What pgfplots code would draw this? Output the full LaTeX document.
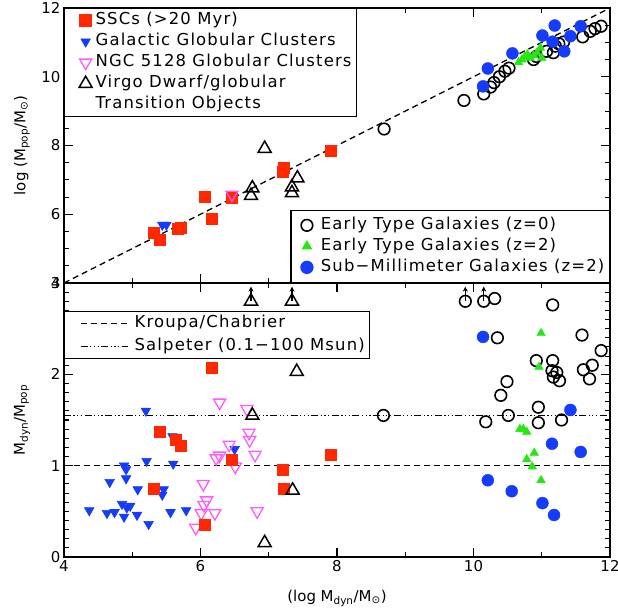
\documentclass[border=0pt]{standalone}
\usepackage{fontspec}
\setmainfont{DejaVu Sans}
\newfontfamily\legfont[LetterSpace=7]{DejaVu Sans}
\usepackage{pgfplots}
\pgfplotsset{compat=1.18}
\usetikzlibrary{arrows.meta}

\definecolor{sscred}{RGB}{255,40,0}
\definecolor{gcblue}{RGB}{20,60,250}
\definecolor{ngcpink}{RGB}{255,90,255}
\definecolor{etgreen}{RGB}{40,230,20}

\pgfplotsset{
  panel/.style={
    scale only axis, width=546bp,
    xmin=4, xmax=12,
    xtick={4,6,8,10,12}, minor x tick num=1,
    tick align=inside,
    major tick length=9bp, minor tick length=5bp,
    axis line style={line width=1.5bp},
    every tick/.style={line width=1.1bp, black},
    tick label style={font=\fontsize{15}{15}\selectfont},
    label style={font=\fontsize{15}{15}\selectfont},
    /pgf/number format/assume math mode=true,
    legend cell align=left,
  },
  legbox/.style={
    draw=black, line width=1.3bp, fill=white,
    inner xsep=4bp, inner ysep=3bp, row sep=3bp,
    font=\legfont\fontsize{16.5}{19}\selectfont,
    nodes={inner sep=1bp, text height=12bp, text depth=4bp},
  },
  markpicA/.style={legend image code/.code={
    \path[draw=none] (0bp,0bp) -- (26bp,0bp);
    \draw[mark repeat=2,mark phase=2,##1] plot coordinates {(0bp,0bp) (17bp,0bp) (26bp,0bp)};}},
  markpicB/.style={legend image code/.code={
    \path[draw=none] (0bp,0bp) -- (25bp,0bp);
    \draw[mark repeat=2,mark phase=2,##1] plot coordinates {(0bp,0bp) (12bp,0bp) (25bp,0bp)};}},
  linepic/.style={legend image code/.code={
    \path[draw=none] (0bp,0bp) -- (65bp,0bp);
    \draw[##1] (12bp,0bp) -- (59bp,0bp);}},
  ssc/.style={only marks, mark=square*, mark size=5.5bp, color=sscred},
  ggc/.style={only marks, mark=triangle*, mark size=5.5bp, color=gcblue,
    mark options={rotate=180, line width=0.6bp}},
  ngc/.style={only marks, mark=triangle, mark size=7bp, color=ngcpink,
    mark options={rotate=180, line width=1.3bp}},
  vir/.style={only marks, mark=triangle, mark size=7.5bp, color=black,
    mark options={line width=1.5bp}},
  etg/.style={only marks, mark=o, mark size=5.8bp, color=black,
    mark options={line width=1.6bp}},
  etgz/.style={only marks, mark=triangle*, mark size=5bp, color=etgreen},
  smg/.style={only marks, mark=*, mark size=6bp, color=gcblue},
  kroupa/.style={black, line width=1.3bp, dash pattern=on 6bp off 4bp},
  salp/.style={black, line width=1.3bp,
    dash pattern=on 7bp off 2.5bp on 1.2bp off 2.5bp on 1.2bp off 2.5bp on 1.2bp off 2.5bp},
}

\begin{document}
\begin{tikzpicture}
\path[use as bounding box] (-64bp,-51bp) rectangle (554bp,557bp);

% lower panel: mass ratio
\begin{axis}[panel, at={(0,0)}, height=274bp,
  ymin=0, ymax=3, ytick={0,1,2,3}, minor y tick num=9,
  xlabel={(log M\textsubscript{dyn}/M\textsubscript{⊙})},
  ylabel={M\textsubscript{dyn}/M\textsubscript{pop}},
  xlabel style={at={(axis description cs:0.5,-0.15)}, anchor=center},
  ylabel style={at={(axis description cs:-0.077,0.5)}, anchor=center},
  legend style={legbox, at={(0,0.898)}, anchor=north west, row sep=5bp}]
\addplot[kroupa, linepic] coordinates {(4,1) (12,1)};
\addlegendentry{Kroupa/Chabrier}
\addplot[salp, linepic] coordinates {(4,1.55) (12,1.55)};
\addlegendentry{Salpeter (0.1−100 Msun)}

\addplot[ggc, forget plot] coordinates {
 (5.20,1.60) (5.59,1.32) (6.50,1.18) (5.21,1.05) (5.60,1.02) (4.88,1.00)
 (4.91,0.96) (4.91,0.86) (4.67,0.82) (5.08,0.74) (5.46,0.74) (5.44,0.68)
 (4.37,0.51) (4.63,0.48) (4.74,0.49) (4.85,0.58) (4.97,0.56) (4.88,0.44)
 (5.07,0.46) (5.24,0.36) (5.56,0.49) (5.79,0.51) (4.92,0.54)};
\addplot[ngc, forget plot] coordinates {
 (6.28,1.69) (6.68,1.62) (6.71,1.36) (6.72,1.28) (6.42,1.23) (6.80,1.12)
 (6.28,1.11) (6.23,1.08) (6.51,0.99) (6.04,0.80) (6.09,0.62) (6.05,0.57)
 (6.21,0.48) (6.01,0.48) (5.93,0.32) (6.83,0.50)};
\addplot[ssc, forget plot] coordinates {
 (5.40,1.37) (5.64,1.28) (5.71,1.22) (5.31,0.745) (6.06,0.35) (6.46,1.06)
 (7.21,0.96) (7.22,0.75) (7.91,1.12) (6.16,2.07)};
\addplot[vir, forget plot] coordinates {
 (6.74,2.80) (7.34,2.80) (7.41,2.03) (6.76,1.55) (7.35,0.73) (6.94,0.155)};
\addplot[etg, forget plot] coordinates {
 (8.68,1.55) (9.88,2.80) (10.15,2.80) (10.31,2.83) (11.16,2.76) (10.35,2.40)
 (11.59,2.43) (11.87,2.26) (11.74,2.10) (11.61,2.05) (11.70,1.95) (10.92,2.15)
 (11.16,2.15) (11.15,2.04) (11.22,2.02) (11.17,1.97) (11.26,1.93) (10.49,1.92)
 (10.40,1.77) (10.95,1.64) (10.51,1.55) (10.18,1.48) (10.95,1.47) (11.29,1.50)};
\addplot[etgz, forget plot] coordinates {
 (10.99,2.45) (10.96,2.08) (10.68,1.40) (10.73,1.40) (10.78,1.37) (10.89,1.14)
 (10.78,1.07) (10.86,0.99) (10.99,0.84)};
\addplot[smg, forget plot] coordinates {
 (10.14,2.41) (11.42,1.61) (11.15,1.24) (11.57,1.15) (10.21,0.84) (10.56,0.72)
 (11.01,0.59) (11.18,0.46)};
% lower limits
\addplot[quiver={u=0,v=0.16}, black, line width=1.2bp,
  -{Stealth[length=5bp,width=5bp]}, forget plot] coordinates {
 (6.74,2.80) (7.34,2.80) (9.88,2.80) (10.15,2.80)};
\end{axis}

% upper panel: population vs dynamical mass, compact objects
\begin{axis}[panel, at={(0,274bp)}, height=275bp,
  ymin=4, ymax=12, ytick={4,6,8,10,12}, minor y tick num=3,
  xticklabels={},
  ylabel={log (M\textsubscript{pop}/M\textsubscript{⊙})},
  ylabel style={at={(axis description cs:-0.077,0.5)}, anchor=center},
  legend style={legbox, at={(0,1)}, anchor=north west}]
\addplot[kroupa, forget plot] coordinates {(4,4) (12,12)};
\addplot[ssc, markpicA] coordinates {
 (5.31,5.45) (5.40,5.25) (5.66,5.57) (5.71,5.62) (6.06,6.52) (6.17,5.86)
 (6.46,6.47) (7.21,7.24) (7.22,7.34) (7.91,7.86)};
\addlegendentry{SSCs (>20 Myr)}
\addplot[ggc, markpicA] coordinates {(5.44,5.69) (5.50,5.69)};
\addlegendentry{Galactic Globular Clusters}
\addplot[ngc, markpicA] coordinates {(6.46,6.57)};
\addlegendentry{NGC 5128 Globular Clusters}
\addplot[vir, markpicA] coordinates {
 (6.94,7.91) (6.76,6.76) (6.74,6.54) (7.42,7.05) (7.34,6.79) (7.34,6.62)};
\addlegendentry{Virgo Dwarf/globular}
\addlegendimage{empty legend}
\addlegendentry{Transition Objects}
\end{axis}

% upper panel: galaxies (second legend)
\begin{axis}[panel, at={(0,274bp)}, height=275bp, hide axis,
  ymin=4, ymax=12,
  legend style={legbox, at={(1,0)}, anchor=south east, inner ysep=6bp}]
\addplot[etg, markpicB] coordinates {
 (8.69,8.48) (9.86,9.31) (10.15,9.50) (10.25,9.70) (10.30,9.83) (10.38,10.00)
 (10.46,10.16) (10.52,10.25) (10.88,10.50) (10.92,10.59) (11.07,10.74)
 (11.17,10.70) (11.20,10.89) (11.25,10.96) (11.32,11.01) (11.60,11.16)
 (11.71,11.32) (11.78,11.40) (11.87,11.47)};
\addlegendentry{Early Type Galaxies (z=0)}
\addplot[etgz, markpicB] coordinates {
 (10.66,10.42) (10.71,10.50) (10.79,10.65) (10.83,10.55) (10.93,10.70)
 (10.98,10.84) (11.00,10.55) (10.75,10.58) (10.88,10.62)};
\addlegendentry{Early Type Galaxies (z=2)}
\addplot[smg, markpicB] coordinates {
 (10.14,9.72) (10.21,10.24) (10.57,10.68) (11.01,11.20) (11.19,11.49)
 (11.16,11.02) (11.42,11.18) (11.33,10.74) (11.57,11.47)};
\addlegendentry{Sub−Millimeter Galaxies (z=2)}
\end{axis}
\end{tikzpicture}
\end{document}
